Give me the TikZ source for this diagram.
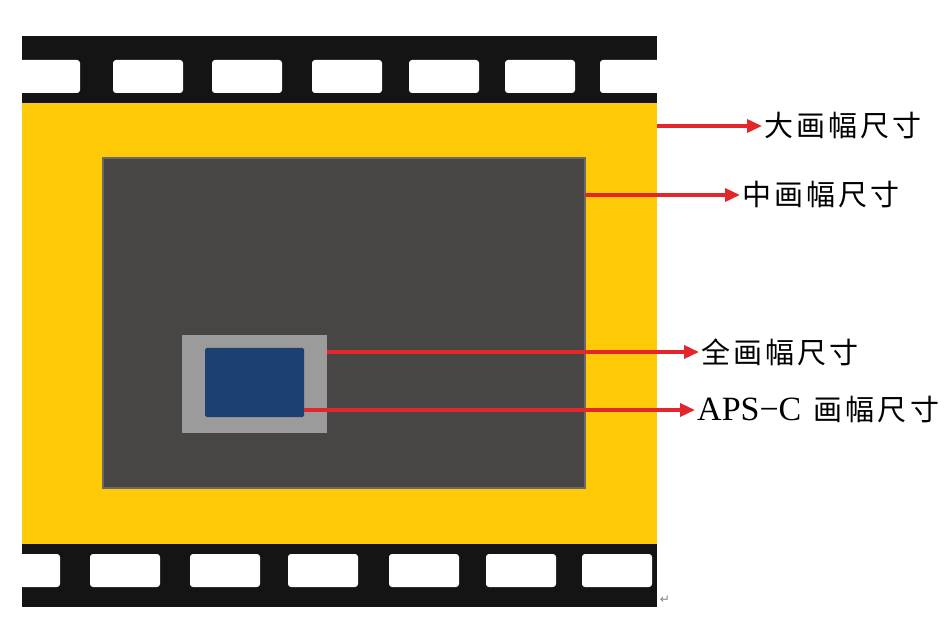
\documentclass[tikz,border=0pt]{standalone}
\usepackage{fontspec}
\setmainfont{Liberation Serif}
\newfontfamily\cjk{Noto Sans CJK SC}[LetterSpace=11]
\newfontfamily\symfont{DejaVu Sans}
\usetikzlibrary{arrows.meta,positioning}
\definecolor{filmblack}{RGB}{20,20,20}
\definecolor{filmyellow}{RGB}{254,202,8}
\definecolor{framegrey}{RGB}{71,70,69}
\definecolor{frameedge}{RGB}{105,105,105}
\definecolor{fullgrey}{RGB}{155,155,155}
\definecolor{apsblue}{RGB}{29,64,115}
\definecolor{arrowred}{RGB}{227,38,43}

\begin{document}
\begin{tikzpicture}[x=1pt, y=-1pt,
    sizebox/.style={rectangle, inner sep=0pt, outer sep=0pt, anchor=north west},
    hole/.style={fill=white, rounded corners=3pt},
    pointer/.style={-{Triangle[length=15pt,width=13pt]}, line width=3.5pt, arrowred},
    sizelabel/.style={anchor=west, inner sep=2pt, font=\cjk\fontsize{29}{31}\selectfont}]
    \useasboundingbox (0,0) rectangle (951,636);
    % film strip with sprocket holes
    \fill[filmblack] (22,36) rectangle (657,607);
    \foreach \a in {10,113,212,312,409,505,600}
        \fill[hole] (\a,60) rectangle ++(70,33);
    \foreach \a in {-10,90,190,288,389,486,582}
        \fill[hole] (\a,554) rectangle ++(70,33);

    % frame sizes
    \node[sizebox, fill=filmyellow, minimum width=635pt, minimum height=441pt] (large) at (22,103) {};
    \node[sizebox, fill=framegrey, draw=frameedge, line width=1.5pt,
          minimum width=482pt, minimum height=330pt] (medium) at (103,158) {};
    \node[sizebox, fill=fullgrey, minimum width=145pt, minimum height=98pt] (full) at (182,335) {};
    \node[sizebox, fill=apsblue, rounded corners=1.5pt, minimum width=99pt, minimum height=69pt] (aps) at (205,348) {};

    % labels
    \node[sizelabel] (largelbl) at (762,126) {大画幅尺寸};
    \node[sizelabel] (mediumlbl) at (740,195) {中画幅尺寸};
    \node[sizelabel] (fulllbl) at (699,352) {全画幅尺寸};
    \node[sizelabel] (apslbl) at (695,410)
        {{\rmfamily\fontsize{34}{36}\selectfont APS−C}\hspace{12pt}画幅尺寸};
    \draw[pointer] (large.east |- largelbl.west) -- (largelbl.west);
    \draw[pointer] (medium.east |- mediumlbl.west) -- (mediumlbl.west);
    \draw[pointer] (full.east |- fulllbl.west) -- (fulllbl.west);
    \draw[pointer] (aps.east |- apslbl.west) -- (apslbl.west);

    \node[font=\symfont\fontsize{12}{12}\selectfont, text=gray, inner sep=0pt] (mark) at (665,600) {↵};
\end{tikzpicture}
\end{document}
